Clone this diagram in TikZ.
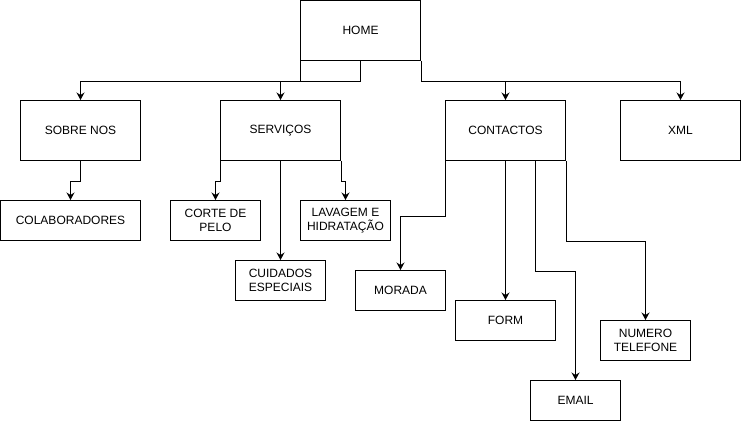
\documentclass[tikz,border=0pt]{standalone}
\usepackage{fontspec}
\setmainfont{Liberation Sans}
\usetikzlibrary{arrows.meta,calc}
\begin{document}
\begin{tikzpicture}[x=1pt,y=-1pt,
  box/.style={draw,line width=1pt,inner sep=0pt,align=center,font=\fontsize{12}{14.5}\selectfont},
  big/.style={box,minimum width=120pt,minimum height=60pt},
  small/.style={box,minimum width=90pt,minimum height=40pt},
  arr/.style={draw,line width=1pt,-{Stealth[length=7.5pt,width=8pt,inset=2.5pt]}}]
\useasboundingbox (-0.5,-0.5) rectangle (740.5,420.5);
\node[big] (home) at (360,30) {HOME};
\node[big] (sobre) at (80,130) {SOBRE NOS};
\node[big] (serv) at (280,130) {SERVIÇOS};
\node[big] (cont) at (505,130) {CONTACTOS};
\node[big] (xml) at (680,130) {XML};
\node[small,minimum width=140pt] (colab) at (70,220) {COLABORADORES};
\node[small] (corte) at (215,220) {CORTE DE\\PELO};
\node[small] (lav) at (345,220) {LAVAGEM E\\HIDRATAÇÃO};
\node[small] (cuid) at (280,280) {CUIDADOS\\ESPECIAIS};
\node[small] (morada) at (400,290) {MORADA};
\node[small,minimum width=100pt] (form) at (505,320) {FORM};
\node[small] (email) at (575,400) {EMAIL};
\node[small] (tel) at (645,340) {NUMERO\\TELEFONE};
\draw[arr] (home.south) -- ++(0,20) -| (sobre.north);
\draw[arr] (home.south west) -- ++(0,20) -| (serv.north);
\draw[arr] (home.south east) -- ++(0,20) -| (cont.north);
\draw[arr] (home.south east) -- ++(0,20) -| (xml.north);
\draw[arr] (sobre.south) -- ++(0,20) -| (colab.north);
\draw[arr] (serv.south west) -- ++(0,20) -| (corte.north);
\draw[arr] (serv.south east) -- ++(0,20) -| (lav.north);
\draw[arr] (serv.south) -- (cuid.north);
\draw[arr] (cont.south west) -- ++(0,55) -| (morada.north);
\draw[arr] (cont.south) -- (form.north);
\draw[arr] ([xshift=30pt]cont.south) -- ++(0,110) -| (email.north);
\draw[arr] (cont.south east) -- ++(0,80) -| (tel.north);
\end{tikzpicture}
\end{document}
